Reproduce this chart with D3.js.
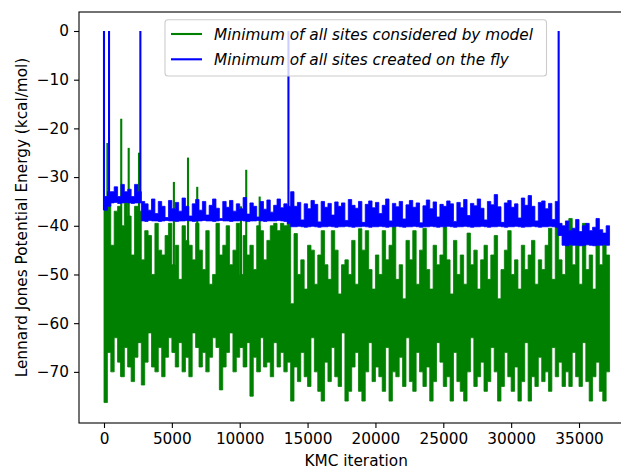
<!DOCTYPE html>
<html><head><meta charset="utf-8">
<script src="https://cdn.jsdelivr.net/npm/d3@7"></script>
<style>
body{margin:0;background:#fff}
svg{display:block}
text{font-family:"DejaVu Sans",sans-serif;fill:#000}
</style>
</head><body><svg id="chart" width="621" height="469"></svg>
<script>
// ---------------- data ----------------
// Each series is summarised in bins of 250 KMC iterations: the lowest and highest energy in the bin.
const binSize = 250;
// green: minimum of all sites considered by model
const greenBinLow = [
 -76.3,-66,-70,-63,-68,-71,-65,-69,-72,-67,-64,
 -72.7,-68,-62,-69,-70,-65,-71,-67,-63,-66,
 -69,-64,-70,-67,-71,-62,-65,-69,-66,-70,
 -67,-63,-65,-73.7,-69,-66,-62,-70,-67,-65,
 -69,-64,-75,-67,-70,-63,-69,-68,-71,-64,
 -69,-66,-70,-68,-76,
 -69,-72,-66,-71,-73,-63,-70,-74,-76,-68,
 -72,-65,-71,-73,-62,-76,-74,-69,-66,-74,
 -76,-70,-64,-72,-69,-71,-74,-65,-76,-70,
 -71,-67,-73,-63,-72,-74,-66,-70,-73,-69,
 -76,-72,-64,-68,-73,-71,-76,-66,-72,-74,
 -76,-70,-63,-73,-71,-68,-74,-72,-65,-70,
 -76,-73,-66,-71,-74,-69,-76,-72,-64,-76,
 -71,-73,-67,-72,-70,-74,-65,-71,-68,-73,
 -70,-73,-66,-71,-73,-64,-72,-76,-71,-68,
 -74,-76,-70
];
const greenBinHigh = [
 -36,-35,-44,-37,-36,-40,-35,-38,-46,-36,-37,
 -47,-41,-42,-50,-39.5,-45,-46,-42,-39.5,-48,
 -44,-51,-40,-43,-44,-47,-39.5,-45,-49,-41,
 -52,-50,-39.5,-46,-44,-40,-48,-45,-39.5,-50,
 -42,-46,-44,-49,-40,-41,-47,-43,-40,-39.5,
 -41,-39.5,-40,-39.5,-56,
 -41.6,-50,-47,-53,-44,-45,-52,-46,-41,-48,
 -51,-41,-45,-54,-48,-47,-50,-43,-52,-40.6,
 -45,-41,-49,-53,-46,-50,-41,-47,-44,-40.2,
 -51,-48,-55,-43,-47,-41,-52,-45,-40.5,-49,
 -53,-44,-48,-46,-40.2,-47,-54,-43,-50,-46,
 -52,-41.5,-48,-45,-53,-47,-44,-51,-46,-42,
 -55,-49,-45,-41,-50,-47,-53,-44,-49,-46,
 -43,-52,-47,-49,-44,-40.5,-51,-39,-47,-50,
 -42,-38.5,-48,-44,-52,-39.5,-49,-46,-53,-43,
 -48,-43,-46
];
// isolated sharp excursions of the green series
const greenSpikeIter = [250, 1270, 1820, 2580, 5150, 6190, 6870, 10090, 10480, 11470];
const greenSpikeTop  = [-23, -18, -24, -25, -31, -26, -32, -36, -28.5, -34];

// blue: minimum of all sites created on the fly
const blueBinHigh = [
 -34,-33,-33,-32,-34,-31.5,-33,-32.5,-34,-31.5,
 -33,-35,-35.5,-36.8,-34.5,-37.5,-35,-36,-38.3,-34.8,
 -36.5,-35.2,-37,-34.3,-36,-38,-35.5,-34.6,-36.8,-35,
 -37.8,-35.8,-34.5,-36.4,-38.5,-35,-36.2,-34.8,-37,-35.5,
 -36.5,-34.2,-37.6,-35.3,-36,-38.2,-35,-36.6,-34.7,-37.2,
 -35.8,-34.5,-36.3,-35.5,-36,-33,-36,-35.2,-38.8,-35.5,
 -36.5,-34.8,-35.6,-39.2,-35,-36.2,-35.4,-37.8,-35.1,-36,
 -35.3,-38.9,-34.6,-35.8,-36.4,-35,-39.3,-35.6,-34.9,-36.3,
 -35.2,-37.5,-35.8,-34.5,-39,-35.4,-36.1,-35,-38.6,-35.7,
 -34.8,-36.2,-35.3,-39.4,-35.9,-34.7,-36.5,-35.1,-38.2,-35.6,
 -36,-34.9,-35.5,-39.1,-35.2,-36.3,-34.6,-37.9,-35.4,-35.9,
 -34.5,-36.4,-38.8,-35,-35.7,-33.6,-36.1,-39.3,-35.3,-34.8,
 -36.2,-35.5,-38.4,-34.3,-35.8,-33.8,-36,-39,-35.2,-34.9,
 -36.5,-35.4,-38.7,-35,-39.5,-40,-39,-41,-40.5,-38.7,
 -41.2,-40,-39.5,-41,-40.3,-38.5,-40.8,-41.5,-40
];
const blueBinLow = [
 -36.8,-36,-35.3,-35.2,-35.4,-35.3,-35.2,-35.3,-35.4,-35.3,
 -35.3,-39,-39.1,-38.9,-39,-39,-39.1,-39,-38.9,-39,
 -39,-39.1,-39,-39,-38.9,-39,-39.1,-39,-39,-38.9,
 -39,-39,-39.1,-39,-38.9,-39,-39,-39.1,-39,-39,
 -38.9,-39,-39.1,-39,-39,-38.9,-39,-39.1,-39,-39,
 -39,-38.9,-39,-39.1,-39.5,-40.2,-40.2,-40.1,-40.2,-40.3,
 -40.2,-40.1,-40.2,-40.3,-40.2,-40.2,-40.1,-40.2,-40.3,-40.2,
 -40.2,-40.1,-40.2,-40.3,-40.2,-40.2,-40.1,-40.2,-40.3,-40.2,
 -40.2,-40.1,-40.2,-40.3,-40.2,-40.2,-40.1,-40.2,-40.3,-40.2,
 -40.2,-40.1,-40.2,-40.3,-40.2,-40.2,-40.1,-40.2,-40.3,-40.2,
 -40.2,-40.1,-40.2,-40.3,-40.2,-40.2,-40.1,-40.2,-40.3,-40.2,
 -40.2,-40.1,-40.2,-40.3,-40.2,-40.2,-40.1,-40.2,-40.3,-40.2,
 -40.2,-40.1,-40.2,-40.3,-40.2,-40.2,-40.1,-40.2,-40.3,-40.2,
 -40.2,-40.1,-40.2,-40.3,-42,-44,-44.1,-43.9,-44,-44,
 -44.1,-44,-43.9,-44,-44.1,-44,-44,-43.9,-44
];
const blueSpikeIter = [0, 370, 2680, 13590, 33500];
const blueSpikeTop  = [0, 0, 0, 0, 0];

const xTickValues = [0,5000,10000,15000,20000,25000,30000,35000];
const yTickValues = [0,-10,-20,-30,-40,-50,-60,-70];
const legendLabels = ["Minimum of all sites considered by model","Minimum of all sites created on the fly"];
const seriesColors = ["#008000","#0000ff"];
const xTitle = "KMC iteration";
const yTitle = "Lennard Jones Potential Energy (kcal/mol)";

// ---------------- build ----------------
function binPoints(lowArr, highArr){
  const pts = [];
  const n = Math.min(lowArr.length, highArr.length);
  for (let i = 0; i < n; i++){
    pts.push({it: i*binSize, lo: lowArr[i], hi: highArr[i]});
    pts.push({it: (i+1)*binSize, lo: lowArr[i], hi: highArr[i]});
  }
  return pts;
}
function spikeSegs(iters, tops, lowArr){
  return iters.map((it,k) => {
    const b = Math.min(lowArr.length-1, Math.floor(it/binSize));
    return [{it, e: tops[k]}, {it, e: lowArr[b]}];
  });
}

const FS = 15.3;
const L = 79, T = 12, B = 423, R = 633.3;
const svg = d3.select("#chart");
const x = d3.scaleLinear().domain([-1842, 39000]).range([L, R]);
const y = d3.scaleLinear().domain([-80.5, 3.9]).range([B, T]);

svg.append("defs").append("clipPath").attr("id","clip")
  .append("rect").attr("x",L).attr("y",T).attr("width",R-L).attr("height",B-T);

const area = d3.area().x(d => x(d.it)).y0(d => y(d.lo)).y1(d => y(d.hi));
const line = d3.line().x(d => x(d.it)).y(d => y(d.e));
const plot = svg.append("g").attr("clip-path","url(#clip)");

const series = [
  {low: greenBinLow, high: greenBinHigh, sIt: greenSpikeIter, sTop: greenSpikeTop},
  {low: blueBinLow, high: blueBinHigh, sIt: blueSpikeIter, sTop: blueSpikeTop}
];
series.forEach((s,k) => {
  const g = plot.append("g");
  g.append("path").datum(binPoints(s.low, s.high))
    .attr("d", area).attr("fill", seriesColors[k])
    .attr("stroke", seriesColors[k]).attr("stroke-width", 0.8).attr("stroke-linejoin","round");
  g.selectAll("path.spike").data(spikeSegs(s.sIt, s.sTop, s.low)).enter()
    .append("path").attr("class","spike")
    .attr("d", line).attr("fill","none")
    .attr("stroke", seriesColors[k]).attr("stroke-width", 2.1);
});

// axes
const fmtMinus = d => d < 0 ? "\u2212" + Math.abs(d) : String(d);
const xAxis = svg.append("g").attr("transform",`translate(0,${B})`)
  .call(d3.axisBottom(x).tickValues(xTickValues).tickSize(5).tickPadding(5).tickFormat(d3.format("d")));
const yAxis = svg.append("g").attr("transform",`translate(${L},0)`)
  .call(d3.axisLeft(y).tickValues(yTickValues).tickSize(5).tickPadding(5).tickFormat(fmtMinus));
[xAxis, yAxis].forEach(a => {
  a.select(".domain").remove();
  a.selectAll("line").attr("stroke","#000").attr("stroke-width",1.1);
  a.selectAll("text").attr("font-family","DejaVu Sans, sans-serif").attr("font-size",FS).attr("fill","#000");
});

// spines
svg.append("rect").attr("x",L).attr("y",T).attr("width",R-L).attr("height",B-T)
  .attr("fill","none").attr("stroke","#000").attr("stroke-width",1.1);

// axis titles
svg.append("text").attr("x",(L+R)/2).attr("y",466).attr("text-anchor","middle")
  .attr("font-size",FS).text(xTitle);
svg.append("text").attr("transform",`translate(27,${(T+B)/2}) rotate(-90)`).attr("text-anchor","middle")
  .attr("font-size",FS).text(yTitle);

// legend
const lg = svg.append("g");
lg.append("rect").attr("x",165).attr("y",19.7).attr("width",381.5).attr("height",56.3)
  .attr("rx",3).attr("fill","#fff").attr("fill-opacity",0.8)
  .attr("stroke","#cccccc").attr("stroke-width",1.1);
const rowsY = [34, 59.3];
legendLabels.forEach((lab,k) => {
  lg.append("line").attr("x1",171).attr("x2",202).attr("y1",rowsY[k]).attr("y2",rowsY[k])
    .attr("stroke",seriesColors[k]).attr("stroke-width",2.1);
  lg.append("text").attr("x",214).attr("y",rowsY[k]).attr("dy","0.36em")
    .attr("font-size",FS).attr("font-style","italic").text(lab);
});
</script>
</body></html>
